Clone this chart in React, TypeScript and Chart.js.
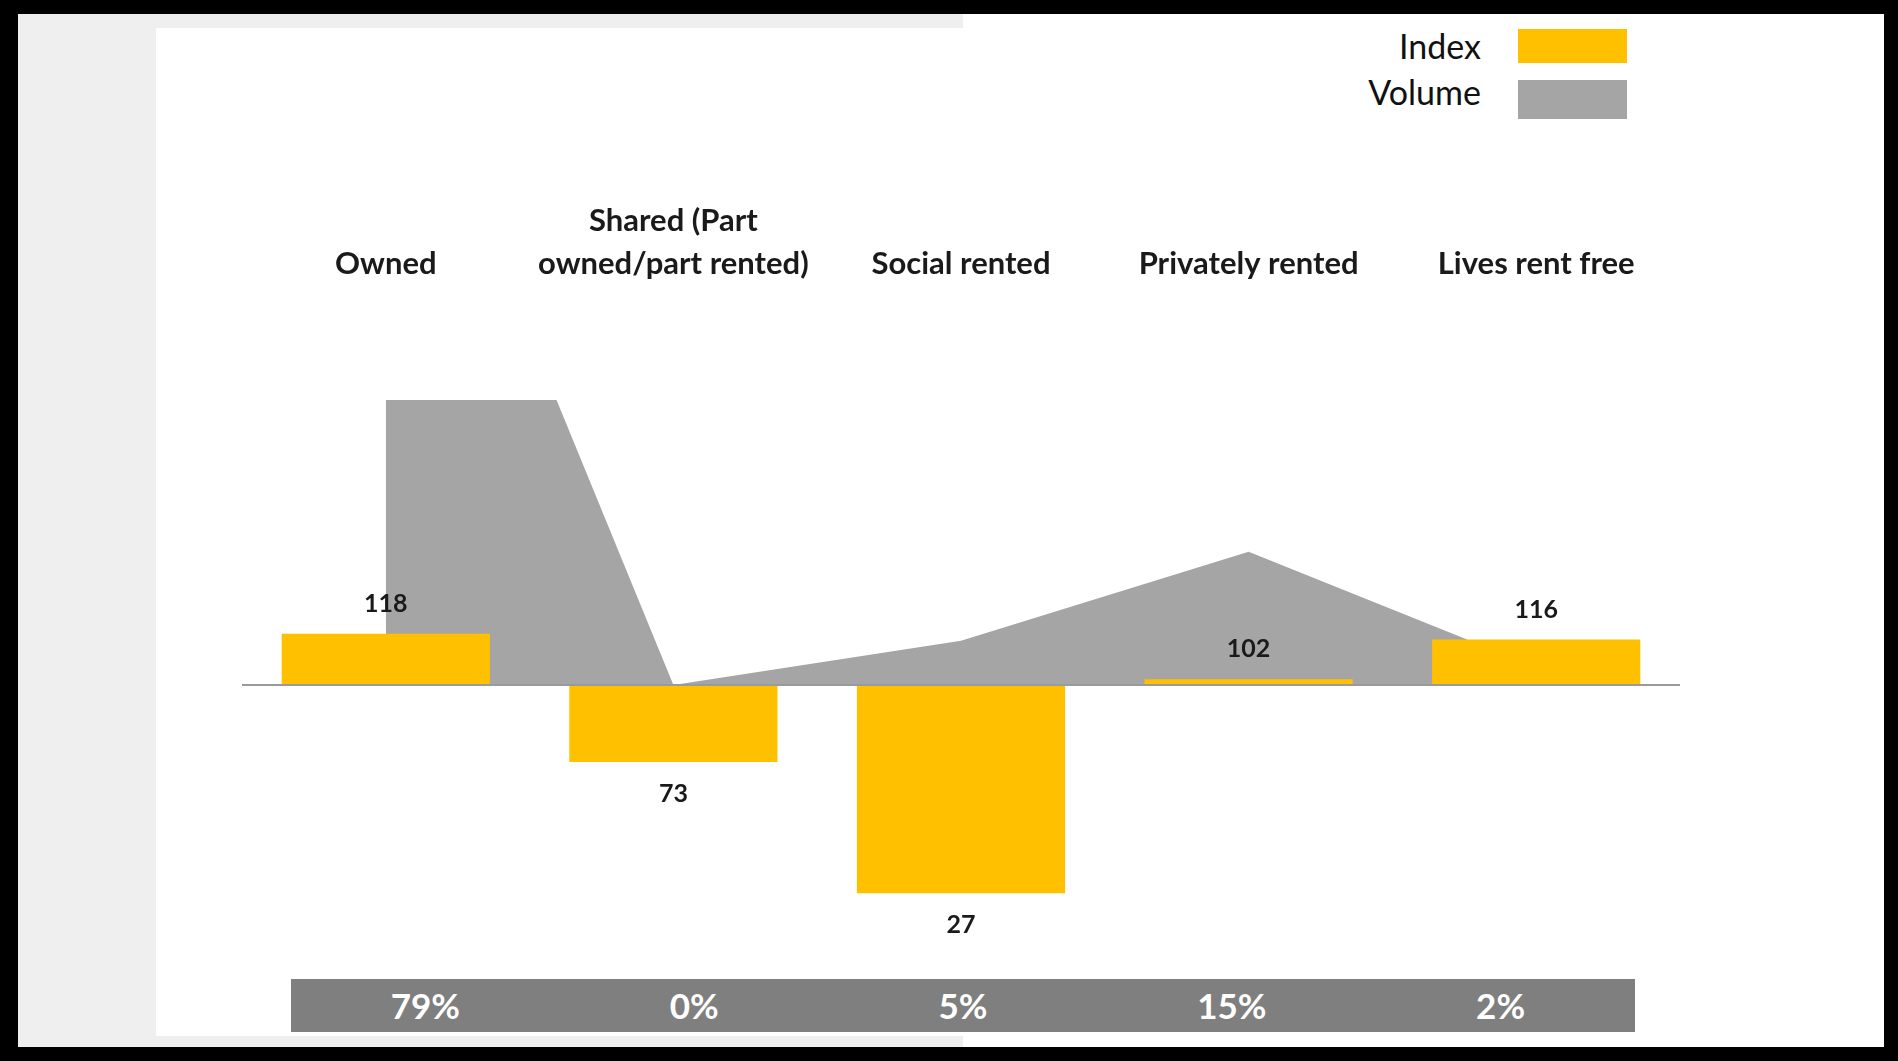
import React, { useEffect, useRef } from "react";
import { Chart, registerables } from "chart.js";

Chart.register(...registerables);

// ---- data ----
const categories: string[][] = [
  ["Owned"],
  ["Shared (Part", "owned/part rented)"],
  ["Social rented"],
  ["Privately rented"],
  ["Lives rent free"],
];
const indexValues = [118, 73, 27, 102, 116];
const volumeValues = [79, 0, 5, 15, 2];
const indexBaseline = 100;
const seriesNames = ["Index", "Volume"];

const YELLOW = "#FFC000";
const GREY = "#A5A5A5";
const FONT = "Lato, 'Open Sans', 'DejaVu Sans', sans-serif";

const overlayPlugin = {
  id: "overlay",
  afterDatasetsDraw(chart: any) {
    const ctx = chart.ctx as CanvasRenderingContext2D;
    const { left, right, top } = chart.chartArea;
    const yS = chart.scales.yIdx;
    const xS = chart.scales.x;
    const y0 = yS.getPixelForValue(0);
    ctx.save();
    // zero line
    ctx.strokeStyle = "#9a9a9a";
    ctx.lineWidth = 2;
    ctx.beginPath();
    ctx.moveTo(left, y0);
    ctx.lineTo(right, y0);
    ctx.stroke();

    // value labels
    ctx.fillStyle = "#1a1a1a";
    ctx.textAlign = "center";
    ctx.textBaseline = "middle";
    ctx.font = `bold 25px ${FONT}`;
    const meta = chart.getDatasetMeta(0);
    meta.data.forEach((el: any, i: number) => {
      const v = indexValues[i];
      const y = v >= indexBaseline ? el.y - 30 : el.y + 32;
      ctx.fillText(String(v), el.x, y);
    });

    // category labels above the plot
    ctx.font = `bold 31px ${FONT}`;
    const baseY = top - 136;
    categories.forEach((lines, i) => {
      const x = xS.getPixelForValue(i);
      lines.forEach((t, j) => {
        ctx.fillText(t, x, baseY - (lines.length - 1 - j) * 43);
      });
    });
    ctx.restore();
  },
};

function ChartCanvas() {
  const ref = useRef<HTMLCanvasElement | null>(null);
  useEffect(() => {
    if (!ref.current) return;
    const chart = new Chart(ref.current, {
      type: "bar",
      data: {
        labels: categories.map((c) => c.join(" ")),
        datasets: [
          {
            type: "bar",
            label: seriesNames[0],
            data: indexValues.map((v) => v - indexBaseline),
            backgroundColor: YELLOW,
            borderWidth: 0,
            barPercentage: 0.724,
            categoryPercentage: 1,
            yAxisID: "yIdx",
            order: 0,
          } as any,
          {
            type: "line",
            label: seriesNames[1],
            data: volumeValues,
            fill: "origin",
            backgroundColor: GREY,
            borderColor: GREY,
            borderWidth: 0,
            pointRadius: 0,
            tension: 0,
            yAxisID: "yVol",
            order: 1,
          } as any,
        ],
      },
      options: {
        animation: false,
        responsive: false,
        devicePixelRatio: 1,
        layout: { padding: { left: 242, right: 218, top: 400, bottom: 161 } },
        scales: {
          x: { type: "category", display: false, offset: true },
          yIdx: { type: "linear", display: false, min: -75.4, max: 100 },
          yVol: { type: "linear", display: false, min: -24.2, max: 32.1 },
        },
        plugins: {
          legend: { display: false },
          tooltip: { enabled: false },
        },
      } as any,
      plugins: [overlayPlugin],
    });
    return () => chart.destroy();
  }, []);
  return (
    <canvas
      ref={ref}
      width={1898}
      height={1061}
      style={{ position: "absolute", left: 0, top: 0, width: 1898, height: 1061 }}
    />
  );
}

export default function App() {
  const abs = (s: React.CSSProperties): React.CSSProperties => ({ position: "absolute", ...s });
  return (
    <div
      style={{
        position: "fixed",
        left: 0,
        top: 0,
        width: 1898,
        height: 1061,
        background: "#000",
        overflow: "hidden",
        fontFamily: FONT,
      }}
    >
      <div style={abs({ left: 18, top: 14, width: 1866, height: 1033, background: "#efefef" })} />
      <div style={abs({ left: 156, top: 28, width: 1728, height: 1008, background: "#fff" })} />
      <div style={abs({ left: 963, top: 14, width: 921, height: 1033, background: "#fff" })} />

      {/* legend */}
      <div style={abs({ right: 417, top: 29, height: 34, lineHeight: "34px", fontSize: 34, color: "#111" })}>
        {seriesNames[0]}
      </div>
      <div style={abs({ right: 417, top: 75, height: 34, lineHeight: "34px", fontSize: 34, color: "#111" })}>
        {seriesNames[1]}
      </div>
      <div style={abs({ left: 1518, top: 29, width: 109, height: 34, background: YELLOW })} />
      <div style={abs({ left: 1518, top: 80, width: 109, height: 39, background: GREY })} />

      {/* volume percentage band */}
      <div
        style={abs({
          left: 291,
          top: 979,
          width: 1344,
          height: 53,
          background: "#7f7f7f",
          display: "flex",
        })}
      >
        {volumeValues.map((v, i) => (
          <div
            key={i}
            style={{
              flex: 1,
              textAlign: "center",
              lineHeight: "53px",
              color: "#fff",
              fontWeight: "bold",
              fontSize: 35,
            }}
          >
            {v}%
          </div>
        ))}
      </div>

      <ChartCanvas />
    </div>
  );
}
